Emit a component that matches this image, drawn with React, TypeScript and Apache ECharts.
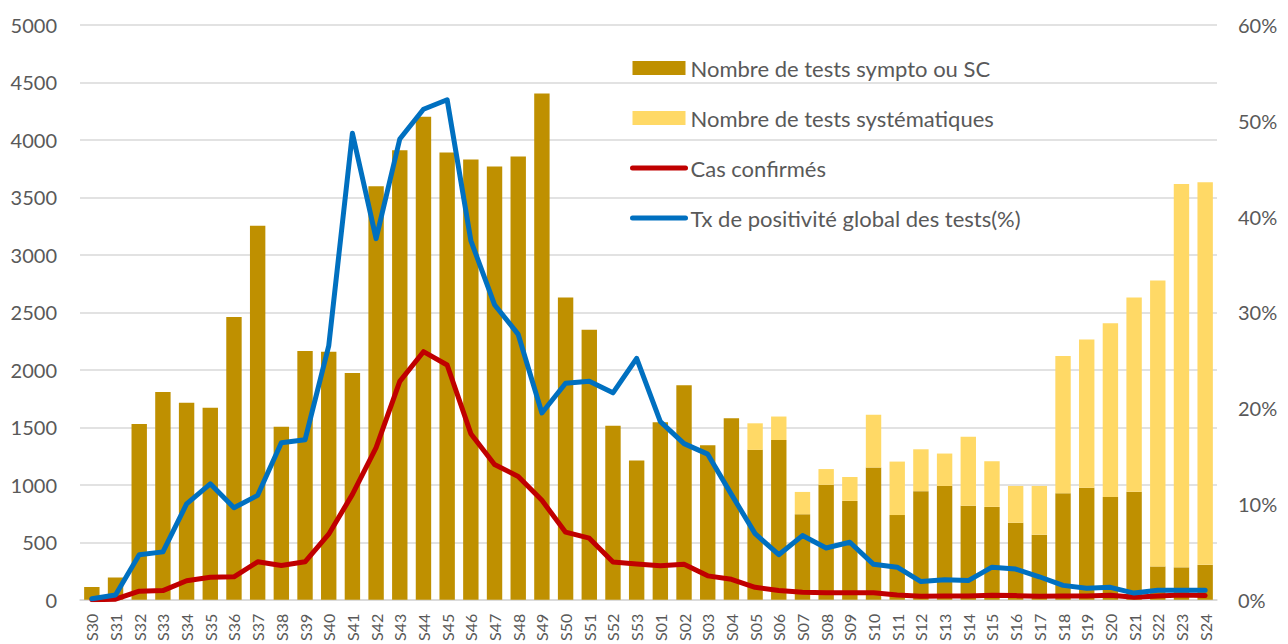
import React, { useEffect, useRef } from "react";
import * as echarts from "echarts";

const categories = [
  "S30","S31","S32","S33","S34","S35","S36","S37","S38","S39","S40","S41",
  "S42","S43","S44","S45","S46","S47","S48","S49","S50","S51","S52","S53",
  "S01","S02","S03","S04","S05","S06","S07","S08","S09","S10","S11","S12",
  "S13","S14","S15","S16","S17","S18","S19","S20","S21","S22","S23","S24",
];

const testsSympto = [
  112, 193, 1530, 1808, 1713, 1670, 2460, 3253, 1505, 2165, 2158, 1972,
  3598, 3910, 4202, 3891, 3829, 3770, 3856, 4405, 2630, 2348, 1514, 1211,
  1545, 1865, 1345, 1580, 1304, 1390, 744, 1000, 860, 1150, 737, 945,
  990, 817, 808, 670, 566, 927, 975, 895, 940, 290, 282, 304,
];

const testsSystematiques = [
  0, 0, 0, 0, 0, 0, 0, 0, 0, 0, 0, 0,
  0, 0, 0, 0, 0, 0, 0, 0, 0, 0, 0, 0,
  0, 0, 0, 0, 231, 204, 194, 137, 208, 460, 465, 364,
  282, 602, 397, 320, 424, 1194, 1290, 1510, 1690, 2487, 3334, 3329,
];

const casConfirmes = [
  0, 5, 75, 80, 165, 195, 200, 330, 298, 330, 570, 917,
  1324, 1900, 2158, 2042, 1445, 1177, 1073, 865, 588, 536, 329, 311,
  295, 308, 208, 178, 108, 80, 66, 60, 60, 60, 42, 30,
  32, 32, 40, 36, 30, 33, 33, 40, 22, 33, 42, 36,
];

const txPositivite = [
  0.1, 0.5, 4.7, 5.0, 10.0, 12.1, 9.6, 10.9, 16.4, 16.7, 26.5, 48.7,
  37.7, 48.1, 51.2, 52.2, 37.5, 30.8, 27.7, 19.5, 22.6, 22.8, 21.6, 25.2,
  18.6, 16.3, 15.2, 11.0, 6.9, 4.7, 6.7, 5.4, 6.0, 3.7, 3.4, 1.9,
  2.1, 2.0, 3.4, 3.2, 2.4, 1.5, 1.2, 1.3, 0.7, 1.0, 1.0, 1.0,
];

const FONT = "Lato, 'Noto Sans', sans-serif";
const GRID = "#D9D9D9";
const TXT = "#595959";

export default function App() {
  const ref = useRef<HTMLDivElement>(null);
  useEffect(() => {
    if (!ref.current) return;
    const chart = echarts.init(ref.current, undefined, { renderer: "svg" });
    chart.setOption({
      animation: false,
      backgroundColor: "#ffffff",
      textStyle: { fontFamily: FONT },
      grid: { left: 80, right: 71, top: 25, bottom: 41, containLabel: false },
      legend: {
        orient: "vertical",
        left: 625,
        top: 52,
        itemWidth: 53,
        itemHeight: 14,
        itemGap: 28,
        textStyle: { fontFamily: FONT, fontSize: 22, color: TXT, lineHeight: 22 },
        data: [
          { name: "Nombre de tests sympto ou SC", icon: "rect" },
          { name: "Nombre de tests systématiques", icon: "rect" },
          {
            name: "Cas confirmés",
            itemStyle: { opacity: 0 },
            lineStyle: { color: "#C00000", width: 5, cap: "round" },
          },
          {
            name: "Tx de positivité global des tests(%)",
            itemStyle: { opacity: 0 },
            lineStyle: { color: "#0070C0", width: 5, cap: "round" },
          },
        ],
      },
      xAxis: {
        type: "category",
        data: categories,
        axisLine: { show: true, lineStyle: { color: GRID, width: 1.5 } },
        axisTick: { show: false },
        axisLabel: {
          rotate: 90,
          interval: 0,
          margin: 14,
          fontFamily: FONT,
          fontSize: 16,
          color: TXT,
        },
      },
      yAxis: [
        {
          type: "value",
          min: 0,
          max: 5000,
          interval: 500,
          axisLine: { show: false },
          axisTick: { show: false },
          splitLine: { lineStyle: { color: GRID, width: 1.5 } },
          axisLabel: {
            fontFamily: FONT,
            fontSize: 20,
            color: TXT,
            margin: 23,
            formatter: (v: number) => String(v),
          },
        },
        {
          type: "value",
          min: 0,
          max: 60,
          interval: 10,
          axisLine: { show: false },
          axisTick: { show: false },
          splitLine: { show: false },
          axisLabel: {
            fontFamily: FONT,
            fontSize: 20,
            color: TXT,
            margin: 21,
            formatter: "{value}%",
          },
        },
      ],
      series: [
        {
          name: "Nombre de tests sympto ou SC",
          type: "bar",
          stack: "tests",
          data: testsSympto,
          barWidth: "65%",
          itemStyle: { color: "#BF9000" },
        },
        {
          name: "Nombre de tests systématiques",
          type: "bar",
          stack: "tests",
          data: testsSystematiques,
          barWidth: "65%",
          itemStyle: { color: "#FFD966" },
        },
        {
          name: "Cas confirmés",
          type: "line",
          data: casConfirmes,
          symbol: "none",
          lineStyle: { color: "#C00000", width: 5, cap: "round", join: "round" },
          itemStyle: { color: "#C00000" },
        },
        {
          name: "Tx de positivité global des tests(%)",
          type: "line",
          yAxisIndex: 1,
          data: txPositivite,
          symbol: "none",
          lineStyle: { color: "#0070C0", width: 5, cap: "round", join: "round" },
          itemStyle: { color: "#0070C0" },
        },
      ],
    });
    return () => chart.dispose();
  }, []);
  return <div ref={ref} style={{ width: 1288, height: 644, position: "fixed", left: 0, top: 0 }} />;
}
